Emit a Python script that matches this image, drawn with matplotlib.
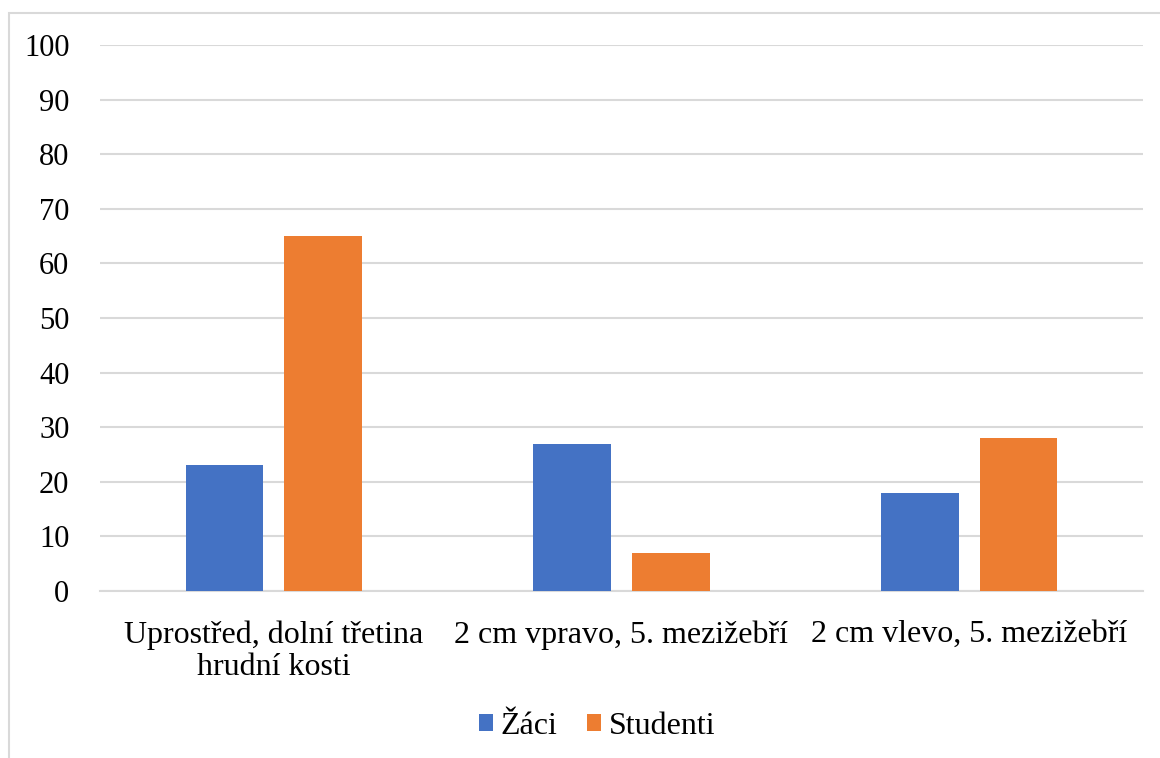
import matplotlib
matplotlib.use("Agg")
import matplotlib.pyplot as plt
import numpy as np
from matplotlib.patches import Rectangle

categories = ["Uprostřed, dolní třetina\nhrudní kosti", "2 cm vpravo, 5. mezižebří", "2 cm vlevo, 5. mezižebří"]
series_names = ["Žáci", "Studenti"]
zaci = [23, 27, 18]
studenti = [65, 7, 28]
yticks = list(range(0, 101, 10))

plt.rcParams['font.family'] = ['Liberation Serif', 'DejaVu Serif']

fig = plt.figure(figsize=(11.6, 7.58), dpi=100)
ax = fig.add_axes([100/1160, 1-591/758, (1143-100)/1160, (591-45)/758])

x = np.arange(len(categories))
w = 0.224
off = 0.142
ax.bar(x - off, zaci, w, color='#4472C4', label=series_names[0], zorder=3)
ax.bar(x + off, studenti, w, color='#ED7D31', label=series_names[1], zorder=3)

ax.set_xlim(-0.5, 2.5)
ax.set_ylim(0, 100)
ax.set_yticks(yticks)
ax.set_yticklabels([str(t) for t in yticks], fontsize=22)
ax.set_xticks(x)
ax.set_xticklabels(categories, fontsize=23, linespacing=1.15)
ax.tick_params(axis='y', length=0, pad=22)
ax.tick_params(axis='x', length=0, pad=21)
ax.grid(axis='y', color='#D9D9D9', linewidth=1.5, zorder=0)
for s in ['top', 'right', 'left']:
    ax.spines[s].set_visible(False)
ax.spines['bottom'].set_color('#D9D9D9')
ax.spines['bottom'].set_linewidth(1.5)

leg = fig.legend(loc='center', bbox_to_anchor=(597/1160, 1-726/758), ncol=2, frameon=False,
                 fontsize=23, handlelength=0.45, handleheight=0.45, handletextpad=0.25,
                 columnspacing=0.9)

fig.patches.append(Rectangle((8.5/1160, -0.1), 1.2, 1-13/758 + 0.1, transform=fig.transFigure,
                             fill=False, edgecolor='#D9D9D9', linewidth=1.5))

fig.savefig("out.png", dpi=100)
